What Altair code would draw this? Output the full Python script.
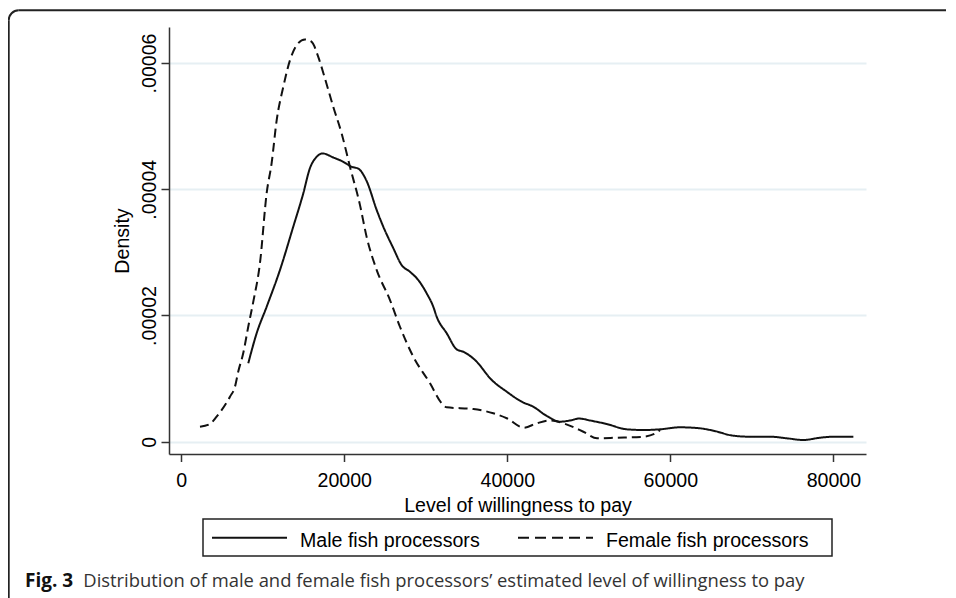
import altair as alt
import pandas as pd

# ---- data ----
female_x = [2300, 3520, 4340, 5980, 6590, 6990, 7610, 8220, 8830, 9660, 10480, 11090,
            11710, 12520, 13340, 14160, 15180, 16000, 16810, 17630, 18650, 19680, 20700,
            21930, 22750, 23980, 25610, 26830, 28470, 30520, 31950, 32570, 35830, 38280,
            39930, 42050, 43610, 45240, 46870, 49330, 51010, 53420, 56690, 58330, 58740]
female_y = [2.38e-6, 2.80e-6, 3.96e-6, 7.13e-6, 8.71e-6, 1.108e-5, 1.405e-5, 1.821e-5,
            2.212e-5, 2.83e-5, 3.938e-5, 4.413e-5, 5.094e-5, 5.621e-5, 6.044e-5, 6.282e-5,
            6.372e-5, 6.334e-5, 6.096e-5, 5.754e-5, 5.305e-5, 4.883e-5, 4.355e-5, 3.748e-5,
            3.241e-5, 2.719e-5, 2.244e-5, 1.821e-5, 1.346e-5, 9.25e-6, 6.08e-6, 5.45e-6,
            5.18e-6, 4.50e-6, 3.71e-6, 2.22e-6, 2.91e-6, 3.36e-6, 2.91e-6, 1.58e-6, 5.4e-7,
            6.3e-7, 7.9e-7, 1.43e-6, 1.85e-6]

male_x = [8220, 9250, 10480, 12110, 13740, 14970, 15790, 16610, 17330, 18650, 19880,
          20910, 21720, 22750, 23980, 24790, 26010, 27040, 28060, 29080, 30110, 30920,
          31340, 32570, 33790, 34600, 36040, 38090, 39930, 41770, 43190, 44840, 46470,
          47690, 48800, 50150, 52200, 54650, 56690, 58740, 61190, 63640, 65280, 67730,
          69780, 72230, 74280, 76320, 78370, 80000, 82450]
male_y = [1.241e-5, 1.717e-5, 2.138e-5, 2.719e-5, 3.405e-5, 3.933e-5, 4.334e-5, 4.513e-5,
          4.567e-5, 4.503e-5, 4.434e-5, 4.355e-5, 4.326e-5, 4.128e-5, 3.669e-5, 3.405e-5,
          3.067e-5, 2.798e-5, 2.692e-5, 2.561e-5, 2.35e-5, 2.138e-5, 1.979e-5, 1.717e-5,
          1.463e-5, 1.425e-5, 1.294e-5, 9.77e-6, 7.92e-6, 6.33e-6, 5.54e-6, 4.07e-6,
          3.17e-6, 3.36e-6, 3.67e-6, 3.36e-6, 2.80e-6, 1.96e-6, 1.85e-6, 1.96e-6, 2.28e-6,
          2.12e-6, 1.74e-6, 9.5e-7, 7.9e-7, 7.9e-7, 5.4e-7, 2.7e-7, 6.3e-7, 7.9e-7, 7.9e-7]

series_names = ["Male fish processors", "Female fish processors"]
x_ticks = [0, 20000, 40000, 60000, 80000]
y_ticks = [0, 0.00002, 0.00004, 0.00006]
x_title = "Level of willingness to pay"
y_title = "Density"
caption_bold = "Fig. 3"
caption_text = "Distribution of male and female fish processors’ estimated level of willingness to pay"

df = pd.concat([
    pd.DataFrame({"wtp": male_x, "density": male_y, "group": series_names[0], "order": range(len(male_x))}),
    pd.DataFrame({"wtp": female_x, "density": female_y, "group": series_names[1], "order": range(len(female_x))}),
])

FONT = "Liberation Sans"
FS = 19.6

lines = alt.Chart(df).mark_line(strokeWidth=2, color="#111", interpolate="monotone").encode(
    x=alt.X("wtp:Q", scale=alt.Scale(domain=[-1500, 84000], nice=False, zero=False),
            axis=alt.Axis(values=x_ticks, format="d", title=x_title, grid=False,
                          tickSize=7.5, labelPadding=25, labelBaseline="alphabetic",
                          titleX=348.5, titleY=57.7, titleBaseline="alphabetic", titleAlign="center")),
    y=alt.Y("density:Q", scale=alt.Scale(domain=[-1.95e-6, 6.57e-5], nice=False, zero=False),
            axis=alt.Axis(values=y_ticks, title=y_title, grid=True,
                          labelExpr="datum.value == 0 ? '0' : slice(format(datum.value, '.5f'), 1)",
                          labelAngle=270, labelAlign="center", labelBaseline="alphabetic",
                          tickSize=8, labelPadding=6,
                          titleAngle=270, titleX=-41, titleY=213.5, titleAlign="center",
                          titleBaseline="alphabetic")),
    strokeDash=alt.StrokeDash("group:N", scale=alt.Scale(domain=series_names, range=[[1, 0], [9, 5]]),
                              legend=None),
    detail="group:N",
    order="order:Q",
)

one = pd.DataFrame({"k": [0]})
deco = alt.Chart(one)

# figure frame (top and left edges with rounded corner)
frame_top = deco.mark_rule(color="#222", strokeWidth=2).encode(
    x=alt.value(-150.3), x2=alt.value(779), y=alt.value(-16.7))
frame_left = deco.mark_rule(color="#222", strokeWidth=2).encode(
    x=alt.value(-160.3), y=alt.value(-6.7), y2=alt.value(575))
frame_corner = deco.mark_arc(color="#222").encode(
    x=alt.value(-150.3), y=alt.value(-6.7), theta=alt.value(4.712), theta2=alt.value(6.2832),
    radius=alt.value(11), radius2=alt.value(9))

# legend box
leg_box = deco.mark_rect(filled=False, stroke="#222", strokeWidth=1.5).encode(
    x=alt.value(34), x2=alt.value(663), y=alt.value(492), y2=alt.value(529))
leg_male_line = deco.mark_rule(color="#111", strokeWidth=2).encode(
    x=alt.value(43), x2=alt.value(118), y=alt.value(510.7))
leg_female_line = deco.mark_rule(color="#111", strokeWidth=2, strokeDash=[11, 6]).encode(
    x=alt.value(349), x2=alt.value(424), y=alt.value(510.7))
leg_male_text = deco.mark_text(font=FONT, fontSize=FS, align="left", baseline="alphabetic", color="#000").encode(
    x=alt.value(131), y=alt.value(519.5), text=alt.value(series_names[0]))
leg_female_text = deco.mark_text(font=FONT, fontSize=FS, align="left", baseline="alphabetic", color="#000").encode(
    x=alt.value(437), y=alt.value(519.5), text=alt.value(series_names[1]))

# caption
cap_bold = deco.mark_text(font="Open Sans", fontSize=19, fontWeight="bold", align="left",
                          baseline="alphabetic", color="#111").encode(
    x=alt.value(-144), y=alt.value(559.7), text=alt.value(caption_bold))
cap_rest = deco.mark_text(font="Open Sans", fontSize=18.4, align="left",
                          baseline="alphabetic", color="#333").encode(
    x=alt.value(-85.7), y=alt.value(559.7), text=alt.value(caption_text))

chart = alt.layer(
    lines, frame_top, frame_left, frame_corner,
    leg_box, leg_male_line, leg_female_line, leg_male_text, leg_female_text,
    cap_bold, cap_rest,
).properties(
    width=697, height=427,
    autosize=alt.AutoSizeParams(type="none"),
    padding={"left": 161, "top": 19, "right": 80, "bottom": 144},
).configure_view(strokeWidth=0).configure_axis(
    labelFont=FONT, titleFont=FONT, labelFontSize=FS, titleFontSize=FS,
    labelColor="#000", titleColor="#000", titleFontWeight="normal",
    domainColor="#333", domainWidth=1.5, tickColor="#333", tickWidth=1.5,
    gridColor="#e6eff3", gridWidth=2,
)

chart.save("out.html", embed_options={"renderer": "svg", "actions": False})
